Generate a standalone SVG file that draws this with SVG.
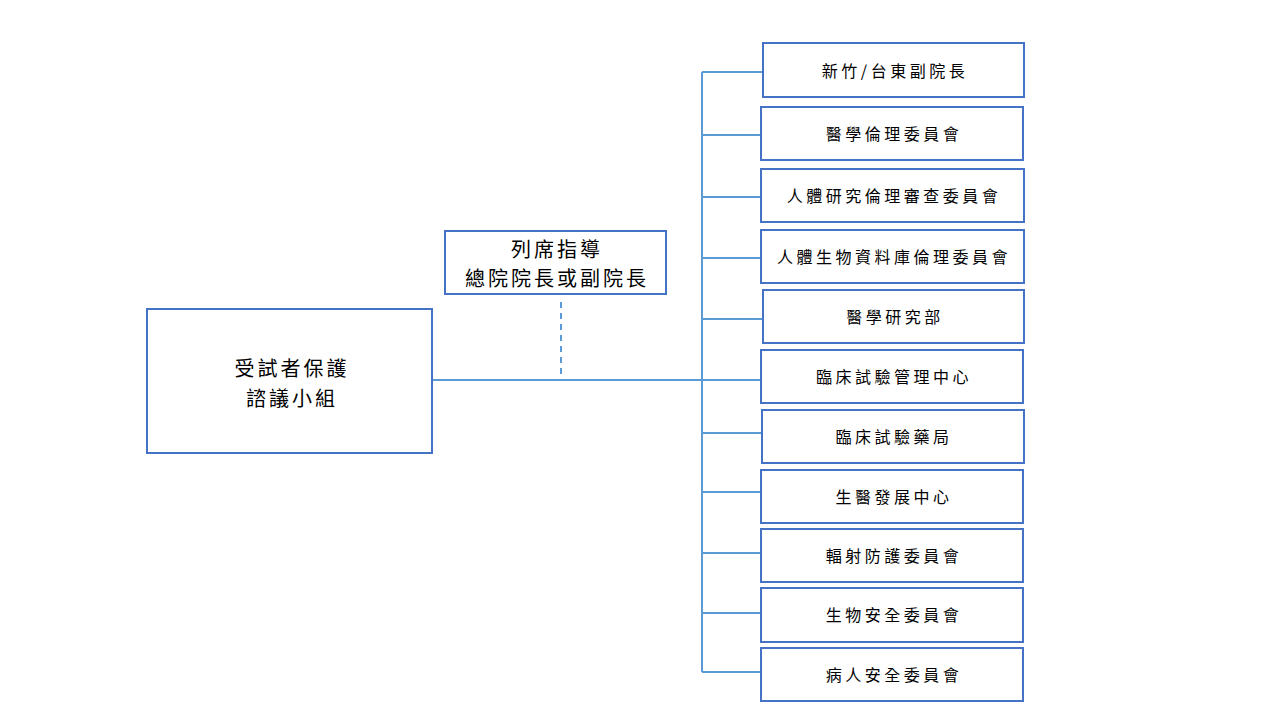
<svg xmlns="http://www.w3.org/2000/svg" width="1280" height="720" viewBox="0 0 1280 720">
<style>
.box{fill:#fff;stroke:#4472C4;stroke-width:2}
.ln{stroke:#5B9BD5;stroke-width:2;fill:none}
.t{font-family:"Noto Sans CJK TC","Noto Sans CJK SC",sans-serif;font-weight:400;fill:#000;text-anchor:middle}
.s{font-size:16px;letter-spacing:3.5px}
.b{font-size:20px;letter-spacing:3px}
</style>
<rect width="1280" height="720" fill="#fff"/>
<g id="connectors">
<line class="ln" x1="702" y1="72" x2="702" y2="672"/>
<line class="ln" x1="432" y1="380" x2="761" y2="380"/>
<line class="ln" x1="561" y1="302" x2="561" y2="380" stroke-dasharray="6,5"/>
<line class="ln" x1="702" y1="72" x2="763" y2="72"/>
<line class="ln" x1="702" y1="135" x2="761" y2="135"/>
<line class="ln" x1="702" y1="197" x2="761" y2="197"/>
<line class="ln" x1="702" y1="258" x2="761" y2="258"/>
<line class="ln" x1="702" y1="319" x2="763" y2="319"/>
<line class="ln" x1="702" y1="433" x2="762" y2="433"/>
<line class="ln" x1="702" y1="492" x2="761" y2="492"/>
<line class="ln" x1="702" y1="553" x2="761" y2="553"/>
<line class="ln" x1="702" y1="613" x2="761" y2="613"/>
<line class="ln" x1="702" y1="672" x2="761" y2="672"/>
</g>
<g id="n-main"><rect class="box" x="147" y="309" width="285" height="144"/>
<text class="t b" x="292" y="376">受試者保護</text><text class="t b" x="292" y="406">諮議小組</text></g>
<g id="n-top"><rect class="box" x="445" y="231" width="221" height="63"/>
<text class="t b" x="557" y="257">列席指導</text><text class="t b" x="557" y="286">總院院長或副院長</text></g>
<g id="n1"><rect class="box" x="763" y="43" width="261" height="54"/><text class="t s" x="895" y="77">新竹/台東副院長</text></g>
<g id="n2"><rect class="box" x="761" y="107" width="262" height="53"/><text class="t s" x="894" y="140">醫學倫理委員會</text></g>
<g id="n3"><rect class="box" x="761" y="169" width="263" height="53"/><text class="t s" x="894" y="202">人體研究倫理審查委員會</text></g>
<g id="n4"><rect class="box" x="761" y="230" width="263" height="53"/><text class="t s" x="894" y="263">人體生物資料庫倫理委員會</text></g>
<g id="n5"><rect class="box" x="763" y="290" width="261" height="53"/><text class="t s" x="895" y="323">醫學研究部</text></g>
<g id="n6"><rect class="box" x="761" y="350" width="262" height="53"/><text class="t s" x="894" y="383">臨床試驗管理中心</text></g>
<g id="n7"><rect class="box" x="762" y="410" width="262" height="53"/><text class="t s" x="894" y="443">臨床試驗藥局</text></g>
<g id="n8"><rect class="box" x="761" y="470" width="262" height="53"/><text class="t s" x="894" y="503">生醫發展中心</text></g>
<g id="n9"><rect class="box" x="761" y="529" width="262" height="53"/><text class="t s" x="894" y="562">輻射防護委員會</text></g>
<g id="n10"><rect class="box" x="761" y="588" width="262" height="54"/><text class="t s" x="894" y="621">生物安全委員會</text></g>
<g id="n11"><rect class="box" x="761" y="648" width="262" height="53"/><text class="t s" x="894" y="681">病人安全委員會</text></g>
</svg>
